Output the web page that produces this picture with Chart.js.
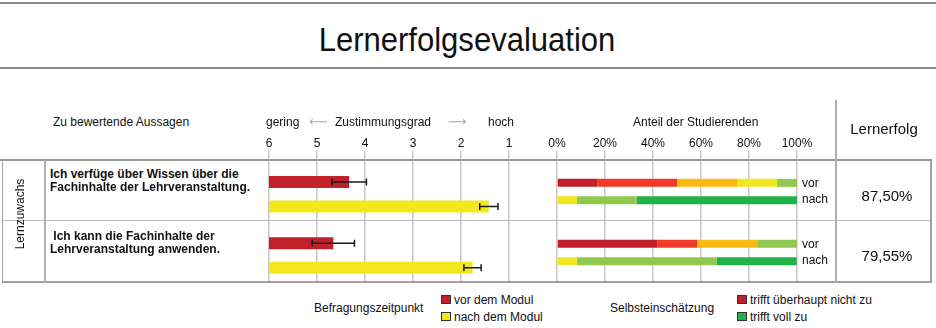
<!DOCTYPE html>
<html><head><meta charset="utf-8">
<script src="https://cdn.jsdelivr.net/npm/chart.js@4"></script>
<style>
html,body{margin:0;padding:0;background:#fff;}
#page{position:relative;width:936px;height:328px;overflow:hidden;font-family:"Liberation Sans",Arial,Helvetica,sans-serif;color:#111;}
.t{position:absolute;white-space:pre;}
.hl{position:absolute;height:0;}
.vl{position:absolute;width:0;}
.wrap{position:absolute;overflow:hidden;}
.sq{position:absolute;width:8px;height:7px;border:1px solid #333;}
</style></head><body>
<div id="page">
  <div class="wrap" id="w1" style="left:239px;top:100px;width:300px;height:182px;"><canvas id="likert" width="300" height="186"></canvas></div>
  <div class="wrap" id="w2" style="left:527px;top:100px;width:300px;height:182px;"><canvas id="share" width="300" height="183"></canvas></div>
</div>
<script>
// ---------- data ----------
const statementLines = [
  ['Ich verfüge über Wissen über die', 'Fachinhalte der Lehrveranstaltung.'],
  [' Ich kann die Fachinhalte der', 'Lehrveranstaltung anwenden.']
];
const statementKeys = ['Wissen', 'Anwenden'];
const groupLabel = 'Lernzuwachs';
// Zustimmungsgrad (6 = gering ... 1 = hoch)
const meanVor  = [4.33, 4.66];
const sdVor    = [0.36, 0.44];
const meanNach = [1.42, 1.76];
const sdNach   = [0.19, 0.18];
const scaleLow = 6, scaleHigh = 1;
// Anteil der Studierenden (%), Stufen 1..6
const levelLabels = ['trifft überhaupt nicht zu', 'Stufe 2', 'Stufe 3', 'Stufe 4', 'Stufe 5', 'trifft voll zu'];
const shareVorRow1  = [16.7, 33.3, 25.0, 16.7, 8.3, 0];
const shareNachRow1 = [0, 0, 0, 8.3, 25.0, 66.7];
const shareVorRow2  = [41.7, 16.7, 25.0, 0, 16.7, 0];
const shareNachRow2 = [0, 0, 0, 8.3, 58.3, 33.3];
const lernerfolg = [87.50, 79.55];

// ---------- styles ----------
const FONT = '"Liberation Sans", Arial, Helvetica, sans-serif';
const RED_BAR = '#c1212a', YELLOW_BAR = '#f2e81d';
const levelColors = ['#c1202a', '#ee3a29', '#fdb913', '#f2e81f', '#92c84f', '#22b24c'];
const GRID = '#c8c8c8';

const page = document.getElementById('page');
function txt(str, x, cy, size, opt = {}) {
  const d = document.createElement('div');
  d.className = 't';
  d.textContent = str;
  const lh = Math.round(size * 1.2);
  d.style.fontSize = size + 'px';
  d.style.lineHeight = lh + 'px';
  d.style.top = (cy - lh / 2) + 'px';
  d.style.left = x + 'px';
  if (opt.bold) d.style.fontWeight = 'bold';
  if (opt.color) d.style.color = opt.color;
  let tf = '';
  if (opt.center) tf += 'translateX(-50%) ';
  if (opt.tf) tf += opt.tf;
  if (tf) d.style.transform = tf;
  if (opt.family) d.style.fontFamily = opt.family;
  page.appendChild(d);
  return d;
}
function hline(x1, x2, y, w, c) {
  const d = document.createElement('div'); d.className = 'hl';
  d.style.left = x1 + 'px'; d.style.width = (x2 - x1) + 'px'; d.style.top = (y - w / 2) + 'px';
  d.style.borderTop = w + 'px solid ' + c; page.appendChild(d);
}
function vline(x, y1, y2, w, c) {
  const d = document.createElement('div'); d.className = 'vl';
  d.style.top = y1 + 'px'; d.style.height = (y2 - y1) + 'px'; d.style.left = (x - w / 2) + 'px';
  d.style.borderLeft = w + 'px solid ' + c; page.appendChild(d);
}
function square(x, y, c) {
  const d = document.createElement('div'); d.className = 'sq';
  d.style.left = x + 'px'; d.style.top = y + 'px'; d.style.background = c; page.appendChild(d);
}

// title block
hline(0, 936, 3, 2, '#8a8a8a');
hline(0, 936, 68, 2, '#8a8a8a');
txt('Lernerfolgsevaluation', 467, 40, 33, {center: true, tf: 'scaleX(0.94)'});

// header row
txt('Zu bewertende Aussagen', 53, 122, 12);
txt('gering', 266, 122, 12);
txt('⟵', 309, 122, 13, {color: '#a8a8a8', family: '"DejaVu Sans", sans-serif'});
txt('Zustimmungsgrad', 335, 122, 12);
txt('⟶', 448, 122, 13, {color: '#a8a8a8', family: '"DejaVu Sans", sans-serif'});
txt('hoch', 488, 122, 12);
txt('Anteil der Studierenden', 633, 122, 12);
txt('Lernerfolg', 884, 129, 15, {center: true});

// table lines
hline(0, 932, 160, 2, '#999');
hline(2, 932, 221, 1.5, '#bdbdbd');
hline(2, 932, 282, 2, '#a0a0a0');
vline(2.5, 160, 283, 1.5, '#a0a0a0');
vline(45, 160, 283, 2, '#b0b0b0');
vline(835.5, 100, 283, 2, '#b0b0b0');
vline(931, 160, 283, 2, '#a0a0a0');

// row labels (rotated group label)
const g = document.createElement('div');
g.className = 't';
g.textContent = groupLabel;
g.style.cssText += 'font-size:12px;line-height:14px;width:100px;text-align:center;left:' + (20 - 50) + 'px;top:' + (214 - 7) + 'px;transform:rotate(-90deg);transform-origin:50% 50%;';
page.appendChild(g);

statementLines.forEach((lines, r) => {
  const base = r === 0 ? 174 : 236;
  lines.forEach((l, k) => txt(l, 50, base + k * 12.5, 12, {bold: true}));
  txt('vor', 802, r === 0 ? 183 : 244, 12);
  txt('nach', 802, r === 0 ? 199 : 260, 12);
  txt(lernerfolg[r].toFixed(2).replace('.', ',') + '%', 887, r === 0 ? 196 : 256, 15, {center: true});
});

// legend
txt('Befragungszeitpunkt', 314, 308, 12);
square(441, 295, RED_BAR); txt('vor dem Modul', 454, 299.5, 12);
square(441, 312, YELLOW_BAR); txt('nach dem Modul', 454, 316.5, 12);
txt('Selbsteinschätzung', 610, 308, 12);
square(737, 295, levelColors[0]); txt(levelLabels[0], 750, 299.5, 12);
square(737, 312, levelColors[5]); txt(levelLabels[5], 750, 316.5, 12);

// ---------- charts ----------
const errorBars = {
  id: 'errorBars',
  afterDatasetsDraw(chart) {
    const ctx = chart.ctx, xs = chart.scales.x;
    [[meanVor, sdVor], [meanNach, sdNach]].forEach(([mean, sd], di) => {
      chart.getDatasetMeta(di).data.forEach((bar, i) => {
        const x1 = xs.getPixelForValue(mean[i] - sd[i]);
        const x2 = xs.getPixelForValue(mean[i] + sd[i]);
        const y = bar.y;
        ctx.save();
        ctx.strokeStyle = '#1a1a1a'; ctx.lineWidth = 1.5;
        ctx.beginPath();
        ctx.moveTo(x1, y); ctx.lineTo(x2, y);
        ctx.moveTo(x1, y - 3.5); ctx.lineTo(x1, y + 3.5);
        ctx.moveTo(x2, y - 3.5); ctx.lineTo(x2, y + 3.5);
        ctx.stroke();
        ctx.restore();
      });
    });
  }
};

const tickFont = {family: FONT, size: 12};

new Chart(document.getElementById('likert'), {
  type: 'bar',
  data: {
    labels: statementKeys,
    datasets: [
      {label: 'vor dem Modul', data: meanVor.map(v => [scaleLow, v]), backgroundColor: RED_BAR},
      {label: 'nach dem Modul', data: meanNach.map(v => [scaleLow, v]), backgroundColor: YELLOW_BAR}
    ]
  },
  options: {
    indexAxis: 'y', responsive: false, animation: false,
    layout: {padding: {left: 30, right: 30, top: 0, bottom: 0}},
    plugins: {legend: {display: false}, tooltip: {enabled: false}, title: {display: false}},
    datasets: {bar: {categoryPercentage: 49 / 61, barPercentage: 12 / 24.5, borderWidth: 0}},
    scales: {
      x: {
        type: 'linear', position: 'top', min: scaleHigh, max: scaleLow, reverse: true,
        ticks: {stepSize: 1, padding: 0, font: tickFont, color: '#111'},
        grid: {color: GRID, lineWidth: 1.5, tickLength: 13, drawTicks: true},
        border: {display: false},
        afterFit(s) { s.height = 63.75; }
      },
      y: {display: false, grid: {display: false}}
    }
  },
  plugins: [errorBars]
});

function shareSets(stack, row1, row2) {
  return levelLabels.map((lab, i) => ({
    label: lab + ' (' + stack + ')', stack, data: [row1[i], row2[i]], backgroundColor: levelColors[i]
  }));
}

new Chart(document.getElementById('share'), {
  type: 'bar',
  data: {
    labels: statementKeys,
    datasets: [...shareSets('vor', shareVorRow1, shareVorRow2), ...shareSets('nach', shareNachRow1, shareNachRow2)]
  },
  options: {
    indexAxis: 'y', responsive: false, animation: false,
    layout: {padding: {left: 30, right: 30, top: 0, bottom: 0}},
    plugins: {legend: {display: false}, tooltip: {enabled: false}},
    datasets: {bar: {categoryPercentage: 34.6 / 61, barPercentage: 8 / 17.3, borderWidth: 0}},
    scales: {
      x: {
        type: 'linear', position: 'top', min: 0, max: 100, stacked: true,
        ticks: {stepSize: 20, padding: 0, font: tickFont, color: '#111', callback: v => v + '%'},
        grid: {color: GRID, lineWidth: 1.5, tickLength: 10.5, drawTicks: true},
        border: {display: false},
        afterFit(s) { s.height = 61; }
      },
      y: {display: false, stacked: true, grid: {display: false}}
    }
  }
});
</script>
</body></html>
